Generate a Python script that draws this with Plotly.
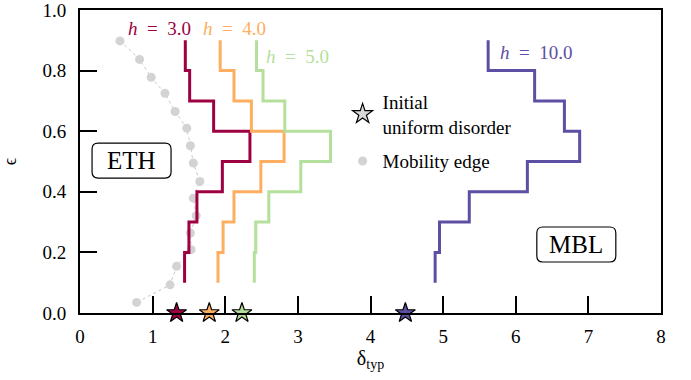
import plotly.graph_objects as go

# Energy-density bins (edges) for the typical-gap histograms
eps_edges = [0.9, 0.8, 0.7, 0.6, 0.5, 0.4, 0.3, 0.2, 0.1]

# delta_typ in each bin, top bin first
delta_h3 = [1.45, 1.51, 1.84, 2.34, 1.96, 1.61, 1.50, 1.44]
delta_h4 = [1.93, 2.12, 2.36, 2.81, 2.49, 2.12, 1.97, 1.90]
delta_h5 = [2.43, 2.52, 2.82, 3.45, 3.04, 2.60, 2.42, 2.40]
delta_h10 = [5.62, 6.26, 6.67, 6.88, 6.16, 5.36, 4.95, 4.89]

fields = [3.0, 4.0, 5.0, 10.0]
colors = ["#9e0142", "#fdae61", "#b5df9c", "#5e4fa2"]

# delta_typ for the initial uniform disorder
initial_delta = [1.33, 1.78, 2.23, 4.48]

# Mobility edge
mob_delta = [0.55, 0.82, 0.98, 1.17, 1.31, 1.47, 1.52, 1.56, 1.65, 1.56,
             1.60, 1.52, 1.53, 1.33, 1.24, 0.78]
mob_eps = [0.898, 0.837, 0.778, 0.725, 0.665, 0.61, 0.552, 0.495, 0.434,
           0.379, 0.321, 0.264, 0.209, 0.154, 0.093, 0.035]

FONT = "'Liberation Serif', 'DejaVu Serif', serif"
ENSP = "\u2002"

W, H = 691, 380
ML, MR, MT, MB = 80, 30, 10, 67
X_RANGE, Y_RANGE = (0, 8), (0, 1)
PX_X = (W - ML - MR) / (X_RANGE[1] - X_RANGE[0])
PX_Y = (H - MT - MB) / (Y_RANGE[1] - Y_RANGE[0])

fig = go.Figure()

# mobility edge
fig.add_trace(go.Scatter(
    x=mob_delta, y=mob_eps, mode="lines+markers",
    line=dict(color="#c8c8c8", width=1, dash="dot"),
    marker=dict(color="#d3d3d3", size=9),
    showlegend=False,
))


def step_xy(vals, edges):
    xs, ys = [], []
    for i, v in enumerate(vals):
        xs += [v, v]
        ys += [edges[i], edges[i + 1]]
    return xs, ys


for vals, c in zip([delta_h3, delta_h4, delta_h5, delta_h10], colors):
    xs, ys = step_xy(vals, eps_edges)
    fig.add_trace(go.Scatter(x=xs, y=ys, mode="lines",
                             line=dict(color=c, width=3), showlegend=False))

# initial-disorder stars
fig.add_trace(go.Scatter(
    x=initial_delta, y=[0] * len(initial_delta), mode="markers",
    marker=dict(symbol="star", size=15, color=colors,
                line=dict(color="black", width=1.2)),
    cliponaxis=False, showlegend=False,
))

# legend entries
fig.add_trace(go.Scatter(
    x=[None], y=[None], mode="markers", name="Initial<br>uniform disorder",
    legendgroup="a",
    marker=dict(symbol="star", size=15, color="#d9d9d9",
                line=dict(color="black", width=1.2)),
))
fig.add_trace(go.Scatter(
    x=[None], y=[None], mode="markers", name="Mobility edge",
    legendgroup="b",
    marker=dict(color="#d3d3d3", size=9),
))

# field labels
label_pos = [(0.64, 0.938), (1.67, 0.938), (2.53, 0.848), (5.76, 0.86)]
for h, c, (lx, ly) in zip(fields, colors, label_pos):
    fig.add_annotation(x=lx, y=ly, xanchor="left", yanchor="middle",
                       text=f"<i>h</i>{ENSP}={ENSP}{h:.1f}", showarrow=False,
                       font=dict(family=FONT, size=19, color=c))


def rounded_box(cx, cy, w_px, h_px, r_px=6):
    """Rounded rectangle path in data coords, sized in pixels."""
    hw, hh = w_px / 2 / PX_X, h_px / 2 / PX_Y
    rx, ry = r_px / PX_X, r_px / PX_Y
    x0, x1, y0, y1 = cx - hw, cx + hw, cy - hh, cy + hh
    return (f"M{x0 + rx},{y0} L{x1 - rx},{y0} Q{x1},{y0} {x1},{y0 + ry} "
            f"L{x1},{y1 - ry} Q{x1},{y1} {x1 - rx},{y1} "
            f"L{x0 + rx},{y1} Q{x0},{y1} {x0},{y1 - ry} "
            f"L{x0},{y0 + ry} Q{x0},{y0} {x0 + rx},{y0} Z")


# regime boxes
for txt, bx, by, bw in [("ETH", 0.71, 0.503, 79), ("MBL", 6.834, 0.226, 79)]:
    fig.add_shape(type="path", xref="x", yref="y",
                  path=rounded_box(bx, by, bw, 35),
                  line=dict(color="black", width=1.2), fillcolor="white",
                  layer="above")
    fig.add_annotation(x=bx, y=by, text=txt, showarrow=False,
                       font=dict(family=FONT, size=25, color="black"))

fig.update_layout(
    width=W, height=H,
    margin=dict(l=ML, r=MR, t=MT, b=MB),
    plot_bgcolor="white", paper_bgcolor="white",
    font=dict(family=FONT, size=19, color="black"),
    legend=dict(x=0.452, y=0.76, xanchor="left", yanchor="top",
                bgcolor="rgba(0,0,0,0)", font=dict(family=FONT, size=19),
                tracegroupgap=7, itemwidth=30),
    xaxis=dict(range=list(X_RANGE), tickvals=list(range(9)),
               ticks="inside", ticklen=17, tickwidth=2, tickcolor="black",
               ticklabelstandoff=5, ticklabeloverflow="allow",
               automargin=False,
               showline=True, linewidth=2, linecolor="black", mirror=True,
               showgrid=False, zeroline=False,
               title=dict(text="δ<sub>typ</sub>", font=dict(size=20),
                          standoff=3)),
    yaxis=dict(range=list(Y_RANGE), tickvals=[0, 0.2, 0.4, 0.6, 0.8, 1.0],
               tickformat=".1f",
               ticks="inside", ticklen=17, tickwidth=2, tickcolor="black",
               ticklabelstandoff=8, ticklabeloverflow="allow",
               automargin=False,
               showline=True, linewidth=2, linecolor="black", mirror=True,
               showgrid=False, zeroline=False,
               title=dict(text="ϵ", font=dict(size=18), standoff=22)),
)

fig.write_html("out.html")
